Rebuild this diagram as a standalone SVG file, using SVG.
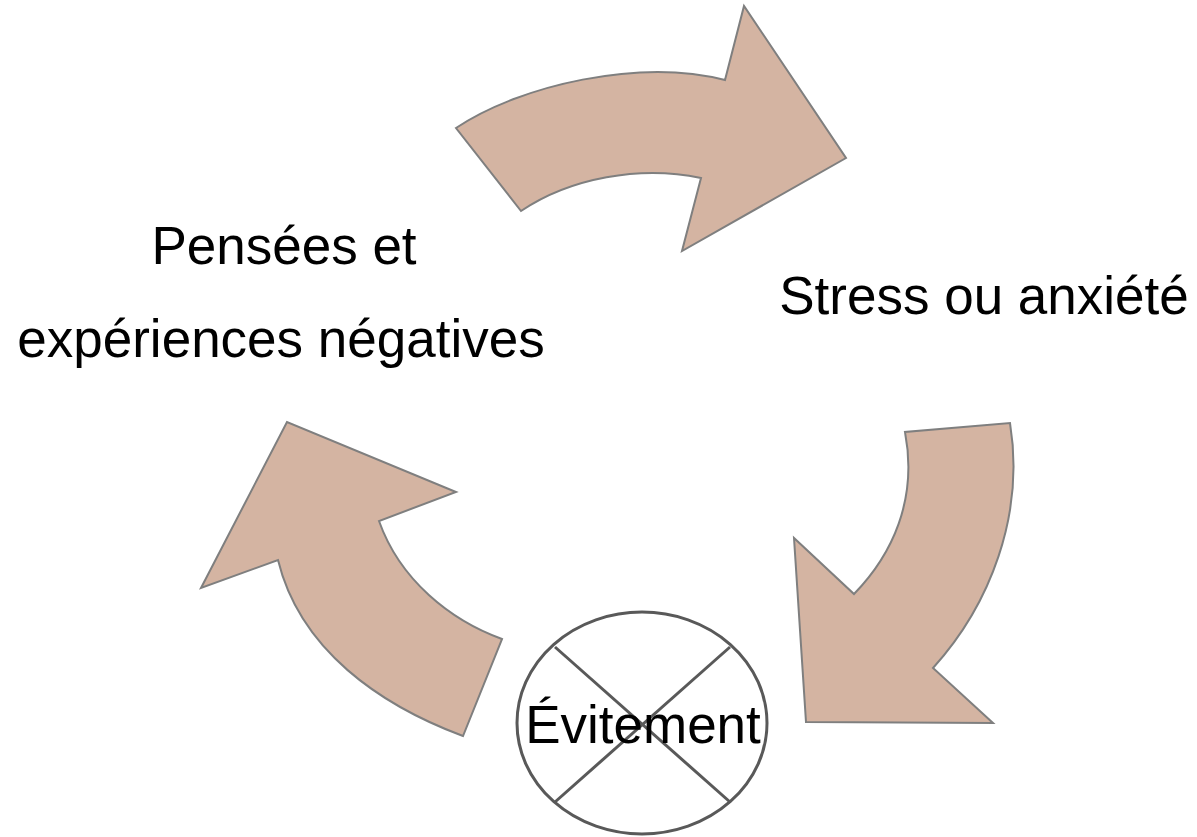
<svg xmlns="http://www.w3.org/2000/svg" width="1197" height="837" viewBox="0 0 1197 837">
<style>
.arrow{fill:#d4b4a2;stroke:#7f7f7f;stroke-width:2;stroke-linejoin:miter}
.lbl{font-family:"Liberation Sans",Arial,sans-serif;font-size:53px;fill:#000;text-anchor:middle}
.cross{stroke:#595959;stroke-width:3;fill:none}
</style>
<rect width="1197" height="837" fill="#fff"/>
<g id="connectors">
<path id="arrow-top" class="arrow" d="M456,128 C520,85 640,58 725,80 L744,6 L846,158 L682,251 L701,178 C640,165 570,178 521,211 Z"/>
<path id="arrow-right" class="arrow" d="M1010,423 C1025,515 990,605 933,668 L993,723 L806,722 L794,538 L854,594 C892,555 918,500 905,432 Z"/>
<path id="arrow-left" class="arrow" d="M463,736 C380,705 300,650 278,560 L201,588 L287,422 L456,492 L379,521 C400,580 450,620 502,639 Z"/>
</g>
<g id="node-pensees">
<text class="lbl" x="284" y="264">Pensées et</text>
<text class="lbl" x="281" y="357">expériences négatives</text>
</g>
<g id="node-stress">
<text class="lbl" x="984" y="314">Stress ou anxiété</text>
</g>
<g id="node-evitement">
<ellipse class="cross" cx="642" cy="723" rx="125" ry="111"/>
<line class="cross" x1="555" y1="647" x2="730" y2="802"/>
<line class="cross" x1="730" y1="647" x2="555" y2="802"/>
<text class="lbl" x="643" y="743">Évitement</text>
</g>
</svg>
